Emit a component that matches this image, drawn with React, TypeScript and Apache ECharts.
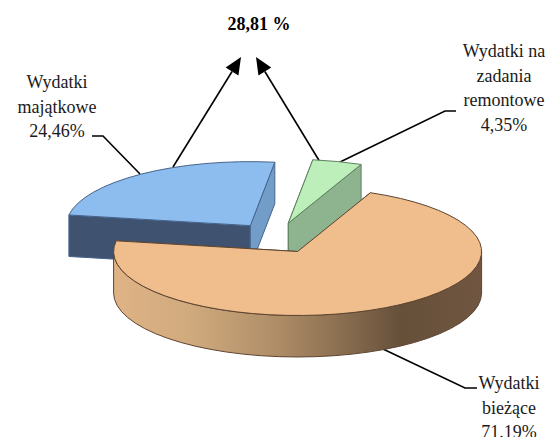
import React, { useEffect, useRef } from "react";
import * as echarts from "echarts";

const categories = ["Wydatki majątkowe", "Wydatki na zadania remontowe", "Wydatki bieżące"];
const values = [24.46, 4.35, 71.19];
const sumLabel = "28,81 %";
const labelLines = [
  ["Wydatki", "majątkowe", "24,46%"],
  ["Wydatki na", "zadania", "remontowe", "4,35%"],
  ["Wydatki", "bieżące", "71.19%"],
];

const CX = 276.5, CY = 238, RX = 184, RY = 64, DEPTH = 41.5, EXPLODE = 0.24, START = 279.6;
const topFill = ["#8dbcef", "#bdefbb", "#f0bd8d"];
const topStroke = ["#46648c", "#5f7f5f", "#5d4431"];
const startFace = ["#3f5370", "#8db38f", "#c9a67c"];
const endFace = ["#739dc9", "#8db38f", "#c9a67c"];

const rad = (d: number) => (d * Math.PI) / 180;
const total = values.reduce((a, b) => a + b, 0);

function renderItem(params: any) {
  const i = params.dataIndex;
  const before = values.slice(0, i).reduce((a, b) => a + b, 0);
  const a0 = START + (before / total) * 360;
  const sweep = (values[i] / total) * 360;
  const a1 = a0 + sweep;
  const mid = a0 + sweep / 2;
  const ox = CX + Math.sin(rad(mid)) * RX * EXPLODE;
  const oy = CY - Math.cos(rad(mid)) * RY * EXPLODE;
  const pt = (a: number, dz = 0): [number, number] => [
    ox + Math.sin(rad(a)) * RX,
    oy - Math.cos(rad(a)) * RY + dz,
  ];
  const s = pt(a0), e = pt(a1);
  const sd = pt(a0, DEPTH), ed = pt(a1, DEPTH);
  const o = [ox, oy], od = [ox, oy + DEPTH];
  const large = sweep > 180 ? 1 : 0;
  const mk = (d: string, fill: any, stroke: string, z = 0) => ({
    type: "path",
    z2: z,
    shape: { pathData: d },
    style: { fill, stroke, lineWidth: 1, lineJoin: "round" },
  });
  const poly = (p: number[][]) => "M" + p.map((q) => q[0] + " " + q[1]).join("L") + "Z";
  const children: any[] = [
    mk(poly([o, s, sd, od]), startFace[i], topStroke[i], 1),
    mk(poly([o, e, ed, od]), endFace[i], topStroke[i], 2),
  ];
  if (sweep > 180) {
    const r = pt(90), l = pt(270), rd = pt(90, DEPTH), ld = pt(270, DEPTH);
    const grad = new echarts.graphic.LinearGradient(
      l[0], 0, r[0], 0,
      [
        { offset: 0, color: "#dfb386" },
        { offset: 0.22, color: "#cfa97d" },
        { offset: 0.45, color: "#ad8c66" },
        { offset: 0.62, color: "#8a6e50" },
        { offset: 0.78, color: "#66503a" },
        { offset: 1, color: "#705640" },
      ],
      true
    );
    children.push(
      mk(
        `M${r[0]} ${r[1]}A${RX} ${RY} 0 0 1 ${l[0]} ${l[1]}L${ld[0]} ${ld[1]}A${RX} ${RY} 0 0 0 ${rd[0]} ${rd[1]}Z`,
        grad,
        topStroke[i],
        3
      )
    );
  }
  children.push(
    mk(
      `M${o[0]} ${o[1]}L${s[0]} ${s[1]}A${RX} ${RY} 0 ${large} 1 ${e[0]} ${e[1]}Z`,
      topFill[i],
      topStroke[i],
      4
    )
  );
  return { type: "group", children };
}

const FONT = '18px "Liberation Serif", "Times New Roman", serif';
const LINE = 24.5;

function textBlock(lines: string[], x: number, y: number) {
  return lines.map((t, k) => ({
    type: "text",
    style: {
      text: t,
      x,
      y: y + k * LINE,
      align: "center",
      verticalAlign: "middle",
      font: FONT,
      fill: "#1a1a1a",
    },
  }));
}

function leader(points: number[][]) {
  return {
    type: "polyline",
    shape: { points },
    style: { stroke: "#000", lineWidth: 1.6, fill: "none" },
  };
}

function arrow(from: number[], to: number[]) {
  const dx = to[0] - from[0], dy = to[1] - from[1];
  const len = Math.hypot(dx, dy);
  const ux = dx / len, uy = dy / len;
  const H = 17, W = 7.5;
  const bx = to[0] - ux * H, by = to[1] - uy * H;
  return [
    leader([from, [bx, by]]),
    {
      type: "polygon",
      shape: {
        points: [to, [bx - uy * W, by + ux * W], [bx + uy * W, by - ux * W]],
      },
      style: { fill: "#000" },
    },
  ];
}

export default function App() {
  const ref = useRef<HTMLDivElement>(null);
  useEffect(() => {
    document.body.style.margin = "0";
    const chart = echarts.init(ref.current!, null, { renderer: "svg" });
    chart.setOption({
      animation: false,
      backgroundColor: "#fff",
      series: [
        {
          type: "custom",
          coordinateSystem: "none",
          name: "Wydatki",
          data: values.map((v, i) => ({ name: categories[i], value: v })),
          renderItem,
          silent: true,
        },
      ],
      graphic: {
        elements: [
          {
            type: "text",
            style: {
              text: sumLabel,
              x: 259,
              y: 24,
              align: "center",
              verticalAlign: "middle",
              font: 'bold 18px "Liberation Serif", "Times New Roman", serif',
              fill: "#000",
            },
          },
          ...textBlock(labelLines[0], 57, 82),
          ...textBlock(labelLines[1], 504, 51),
          ...textBlock(labelLines[2], 509, 383),
          leader([[92, 136], [103, 136], [140, 174]]),
          leader([[338, 163], [445, 111], [456, 111]]),
          leader([[383, 349], [465, 388], [477, 388]]),
          ...arrow([173, 167], [241, 57]),
          ...arrow([320, 162], [256, 57]),
        ],
      },
    });
    return () => chart.dispose();
  }, []);
  return <div ref={ref} style={{ width: 555, height: 437 }} />;
}
